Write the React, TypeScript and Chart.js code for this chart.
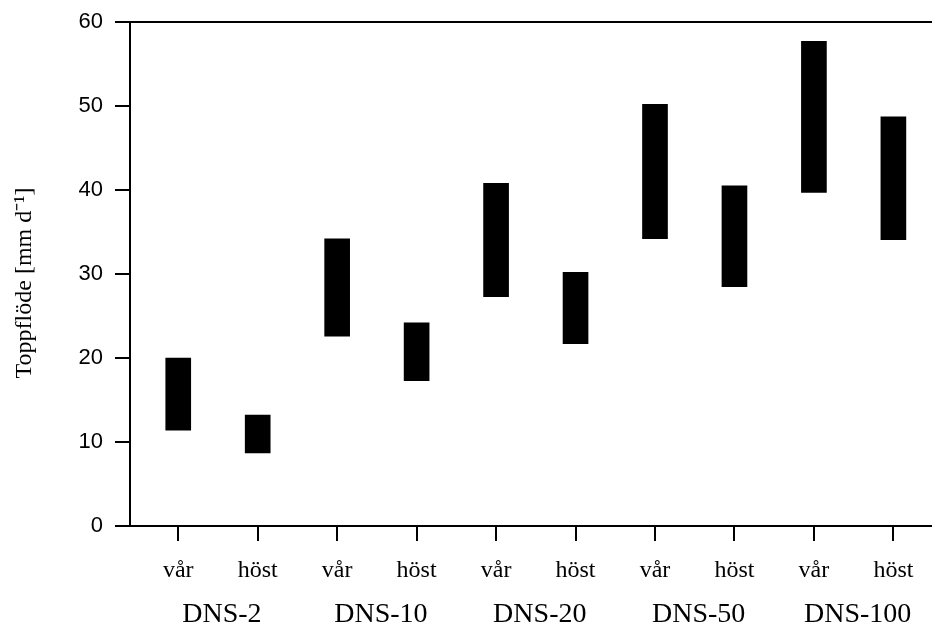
import React, { useEffect, useRef } from 'react';
import { Chart, registerables } from 'chart.js';

Chart.register(...registerables);

const seasons = ['vår', 'höst', 'vår', 'höst', 'vår', 'höst', 'vår', 'höst', 'vår', 'höst'];
const groups = ['DNS-2', 'DNS-10', 'DNS-20', 'DNS-50', 'DNS-100'];
const lowValues = [11.4, 8.7, 22.6, 17.3, 27.3, 21.7, 34.2, 28.5, 39.7, 34.1];
const highValues = [20.0, 13.2, 34.2, 24.2, 40.8, 30.2, 50.2, 40.5, 57.7, 48.7];
const yTicks = [0, 10, 20, 30, 40, 50, 60];
const yTitle = 'Toppflöde [mm d⁻¹]   ';

export default function App() {
  const ref = useRef<HTMLCanvasElement>(null);

  useEffect(() => {
    const positions = seasons.map((_, i) => i + 1);
    const groupPositions = groups.map((_, g) => 2 * g + 1.55);
    const xMin = 0.393;
    const xMax = 10.486;

    const chart = new Chart(ref.current!, {
      type: 'bar',
      data: {
        datasets: [
          {
            data: positions.map((x, i) => ({ x, y: [lowValues[i], highValues[i]] })) as any,
            backgroundColor: '#000',
            borderWidth: 0,
            barThickness: 25,
            xAxisID: 'x',
            yAxisID: 'y',
          },
        ],
      },
      options: {
        animation: false,
        responsive: false,
        layout: { padding: { top: 22, left: 0, right: 0, bottom: 0 } },
        plugins: { legend: { display: false }, tooltip: { enabled: false } },
        scales: {
          x: {
            type: 'linear',
            position: 'bottom',
            min: xMin,
            max: xMax,
            offset: false,
            afterBuildTicks: (s: any) => {
              s.ticks = positions.map((v) => ({ value: v }));
            },
            afterFit: (s: any) => {
              s.height = 64;
            },
            ticks: {
              callback: (v: any) => seasons[Math.round(Number(v)) - 1] ?? '',
              color: '#000',
              font: { family: '"Liberation Serif", "Times New Roman", serif', size: 24 },
              padding: 15,
              maxRotation: 0,
              autoSkip: false,
            },
            grid: { drawOnChartArea: false, tickLength: 15, color: '#000', lineWidth: 2, offset: false },
            border: { display: true, color: '#000', width: 2 },
          },
          x2: {
            type: 'linear',
            position: 'bottom',
            min: xMin,
            max: xMax,
            offset: false,
            afterBuildTicks: (s: any) => {
              s.ticks = groupPositions.map((v) => ({ value: v }));
            },
            afterFit: (s: any) => {
              s.height = 39;
            },
            ticks: {
              callback: (v: any) => groups[Math.round((Number(v) - 1.55) / 2)] ?? '',
              color: '#000',
              font: { family: '"Liberation Serif", "Times New Roman", serif', size: 28 },
              padding: 0,
              maxRotation: 0,
              autoSkip: false,
            },
            grid: { display: false },
            border: { display: false },
          },
          y: {
            type: 'linear',
            min: 0,
            max: 60,
            afterBuildTicks: (s: any) => {
              s.ticks = yTicks.map((v) => ({ value: v }));
            },
            afterFit: (s: any) => {
              s.width = 130;
              s.paddingTop = 0;
              s.paddingBottom = 0;
            },
            ticks: {
              color: '#000',
              font: { family: '"Liberation Sans", Arial, sans-serif', size: 22 },
              padding: 12,
            },
            grid: {
              color: (c: any) => (c.tick && c.tick.value === 60 ? '#000' : 'rgba(0,0,0,0)'),
              tickColor: '#000',
              tickLength: 15,
              lineWidth: 2,
            },
            border: { color: '#000', width: 2 },
            title: {
              display: true,
              text: yTitle,
              color: '#000',
              font: { family: '"Liberation Serif", "Times New Roman", serif', size: 24 },
              padding: { top: 10, bottom: 0 },
            },
          },
        },
      } as any,
    });
    return () => chart.destroy();
  }, []);

  return (
    <div style={{ position: 'absolute', left: 0, top: 0, width: 932, height: 629, background: '#fff' }}>
      <canvas ref={ref} width={932} height={629} style={{ display: 'block', width: 932, height: 629 }} />
    </div>
  );
}
